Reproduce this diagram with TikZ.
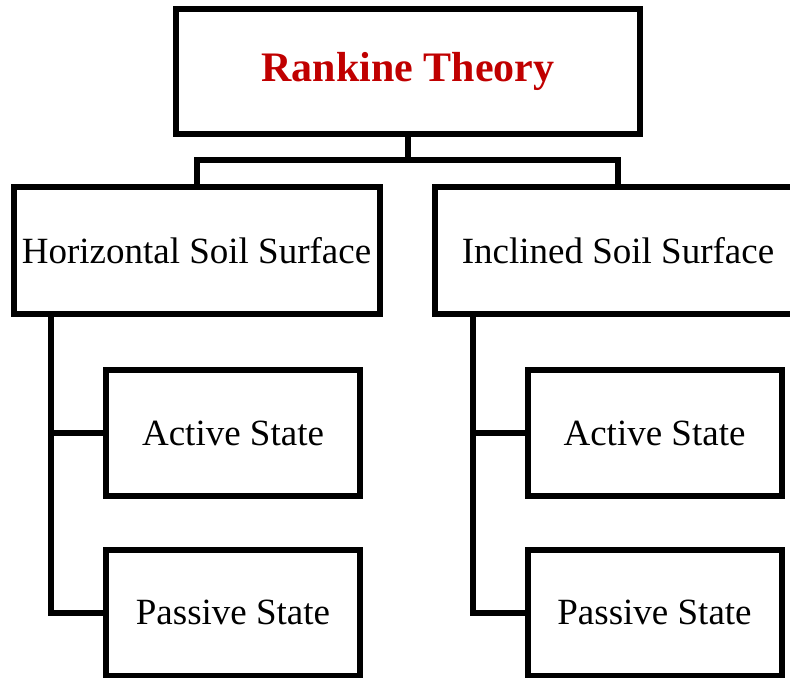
\documentclass[tikz,border=0pt]{standalone}
\usepackage{fontspec}
\setmainfont{Liberation Serif}
\definecolor{rankred}{RGB}{192,0,0}
\begin{document}
\begin{tikzpicture}[x=0.5pt,y=-0.5pt,line width=3pt,
    every node/.style = {shape=rectangle,
    draw, align=center, outer sep=0pt, line width=3pt,
    font=\fontsize{18.5}{22}\selectfont}]
\useasboundingbox (0,0) rectangle (790,677);
\clip (0,0) rectangle (790,677);
\node[minimum width=232pt,minimum height=62.5pt,text=rankred,
  font=\bfseries\fontsize{21}{25}\selectfont] (rankine) at (408,71.5) {Rankine Theory};
\begin{scope}[minimum width=183pt,minimum height=63.5pt]
\node (horiz) at (196.5,250.5) {Horizontal Soil Surface};
\node (incl) at (618,250.5) {Inclined Soil Surface};
\end{scope}
\begin{scope}[minimum width=127pt,minimum height=63pt]
\node (hact) at (233,433) {Active State};
\node (hpas) at (233,612.5) {Passive State};
\node (iact) at (654.5,433) {Active State};
\node (ipas) at (654.5,612.5) {Passive State};
\end{scope}
\path (rankine.south) ++(0,26) coordinate (bus);
\draw (rankine.south) -- (bus);
\draw (horiz.north) |- (bus) -| (incl.north);
\draw (horiz.south west) ++(37.5,0) |- (hact.west);
\draw (horiz.south west) ++(37.5,0) |- (hpas.west);
\draw (incl.south west) ++(37.5,0) |- (iact.west);
\draw (incl.south west) ++(37.5,0) |- (ipas.west);
\end{tikzpicture}
\end{document}
